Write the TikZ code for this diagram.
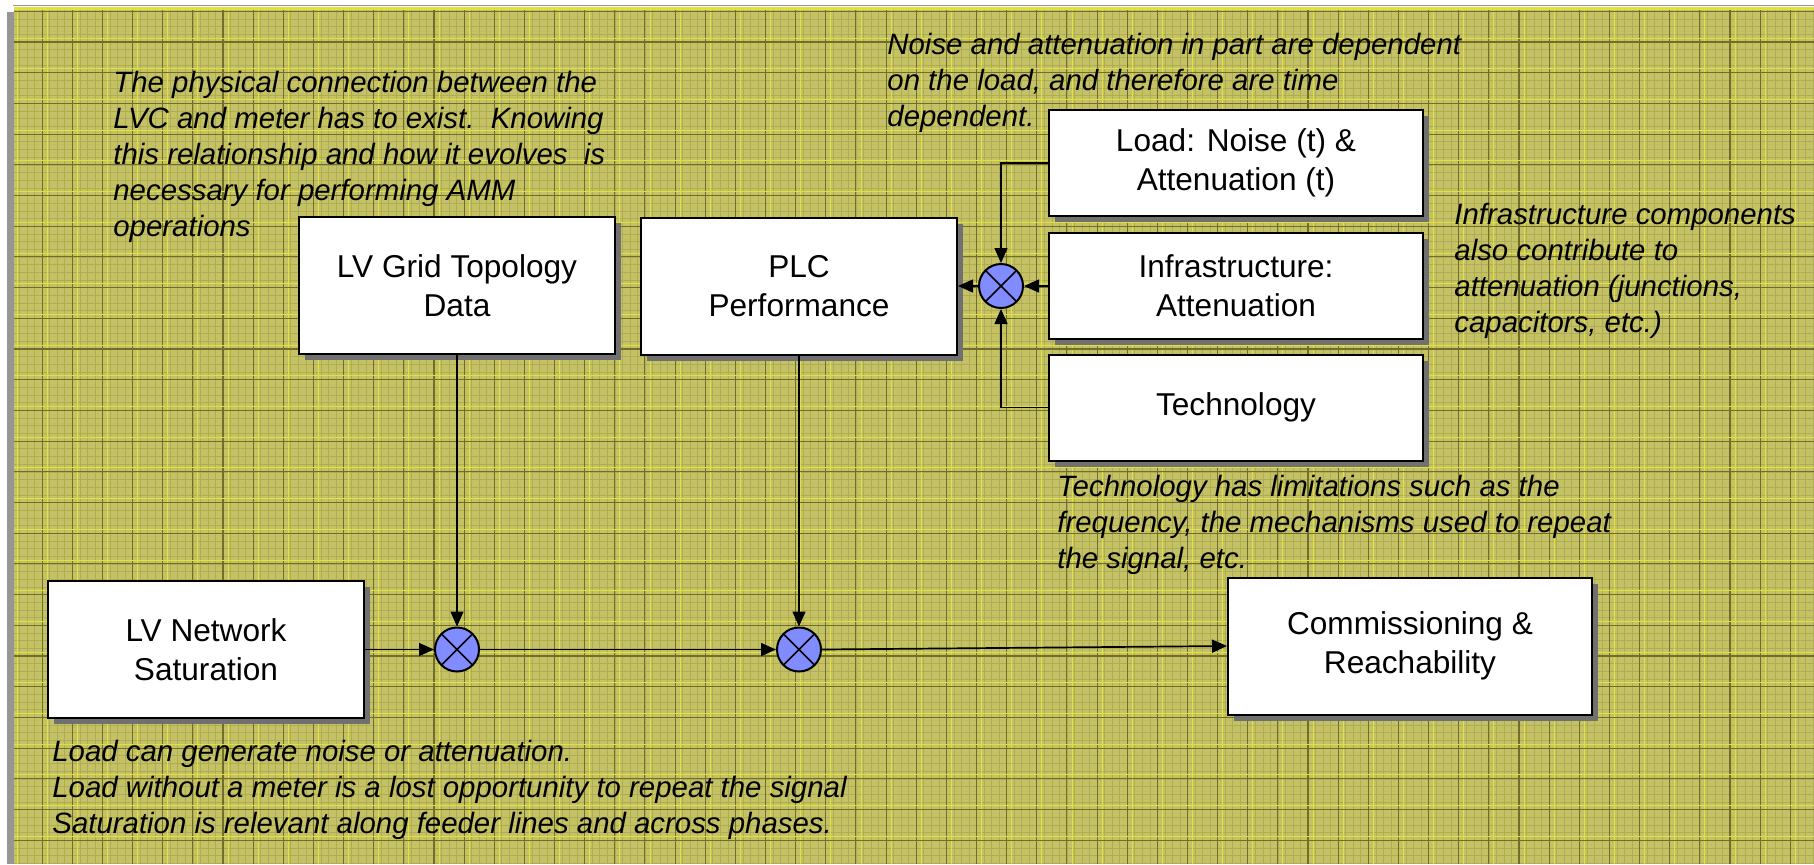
\documentclass[tikz,border=0pt]{standalone}
\usepackage{fontspec}
\setmainfont{Liberation Sans}
\usetikzlibrary{arrows.meta,shadows}

\definecolor{paper}{RGB}{196,194,100}
\definecolor{gridminor}{RGB}{174,172,84}
\definecolor{griddark}{RGB}{112,110,40}
\definecolor{gridbright}{RGB}{226,224,64}
\definecolor{framegray}{RGB}{150,150,150}
\definecolor{shadowgray}{RGB}{112,112,112}
\definecolor{sumblue}{RGB}{128,140,255}

\tikzset{
  blk/.style={draw=black, line width=1pt, fill=white,
    minimum width=158pt, minimum height=68.5pt, inner sep=0pt, align=center,
    font=\fontsize{15.8}{19.5}\selectfont,
    drop shadow={opacity=1, fill=shadowgray, shadow xshift=3pt, shadow yshift=-3pt}},
  wideblk/.style={blk, minimum width=187pt, minimum height=53pt},
  sumj/.style={circle, draw=black, line width=1pt, fill=sumblue,
    minimum size=22pt, inner sep=0pt,
    path picture={
      \draw[line width=0.8pt] (path picture bounding box.north west) -- (path picture bounding box.south east);
      \draw[line width=0.8pt] (path picture bounding box.north east) -- (path picture bounding box.south west);}},
  note/.style={font=\fontsize{14.7}{18}\selectfont\itshape, inner sep=0pt, anchor=base west},
  conn/.style={line width=0.7pt, -{Triangle[length=7.5pt,width=6.5pt]}},
}

\begin{document}
\begin{tikzpicture}[x=0.5pt, y=-0.5pt]
\useasboundingbox (0,0) rectangle (1814,864);

% sheet with its frame and squared paper
\fill[white] (0,0) rectangle (1814,864);
\fill[framegray] (7,12) rectangle (14,864);
\draw[framegray, line width=0.6pt] (13,5.5) -- (1814,5.5);
\begin{scope}
  \clip (14,7) rectangle (1814,864);
  \fill[paper] (14,7) rectangle (1814,864);
  \foreach \k in {0,...,240} {
    \pgfmathsetmacro\gx{12+7.535*\k}
    \draw[gridminor, line width=0.3pt] (\gx,7) -- (\gx,864);
  }
  \foreach \k in {0,...,112} {
    \pgfmathsetmacro\gy{11.3+7.675*\k}
    \draw[gridminor, line width=0.3pt] (14,\gy) -- (1814,\gy);
  }
  \foreach \k in {0,...,60} {
    \pgfmathsetmacro\gx{12+30.14*\k}
    \draw[griddark, line width=0.55pt] (\gx,7) -- (\gx,864);
    \draw[gridbright, line width=0.4pt] (\gx+5,7) -- (\gx+5,864);
  }
  \foreach \k in {0,...,28} {
    \pgfmathsetmacro\gy{11.3+30.7*\k}
    \draw[griddark, line width=0.55pt] (14,\gy) -- (1814,\gy);
    \draw[gridbright, line width=0.4pt] (14,\gy-4) -- (1814,\gy-4);
  }
  \draw[gridbright, line width=1pt] (14,8.5) -- (1814,8.5);
\end{scope}

% blocks
\node[blk] (topo) at (457,285.5) {LV Grid Topology\\Data};
\node[blk] (plc) at (799,286) {PLC\\Performance};
\node[wideblk] (load) at (1236,163) {Load: Noise (t) \&\\Attenuation (t)};
\node[wideblk] (infra) at (1236,286) {Infrastructure:\\Attenuation};
\node[wideblk] (tech) at (1236,407.5) {Technology};
\node[blk] (lvnet) at (206,649.5) {LV Network\\Saturation};
\node[blk, minimum width=182pt] (comm) at (1410,646) {Commissioning \&\\Reachability};

% summing junctions
\node[sumj] (j0) at (1001,286) {};
\node[sumj] (j1) at (topo |- lvnet) {};
\node[sumj] (j2) at (plc |- lvnet) {};

% signal paths
\draw[conn] (load.west) -| (j0.north);
\draw[conn] (tech.west) -| (j0.south);
\draw[conn] (infra.west) -- (j0.east);
\draw[conn] (j0.west) -- (plc.east);
\draw[conn] (topo.south) -- (j1.north);
\draw[conn] (plc.south) -- (j2.north);
\draw[conn] (lvnet.east) -- (j1.west);
\draw[conn] (j1.east) -- (j2.west);
\draw[conn, line width=0.85pt] (j2.east) -- (comm.west);

% annotations
\node[note] (n1) at (113,92) {\begin{tabular}[t]{@{}l@{}}
The physical connection between the\\
LVC and meter has to exist.\ \ Knowing\\
this relationship and how it evolves\ \ is\\
necessary for performing AMM\\
operations\end{tabular}};
\node[note] (n2) at (887,54) {\begin{tabular}[t]{@{}l@{}}
Noise and attenuation in part are dependent\\
on the load, and therefore are time\\
dependent.\end{tabular}};
\node[note] (n3) at (1454,224) {\begin{tabular}[t]{@{}l@{}}
Infrastructure components\\
also contribute to\\
attenuation (junctions,\\
capacitors, etc.)\end{tabular}};
\node[note] (n4) at (1057,496) {\begin{tabular}[t]{@{}l@{}}
Technology has limitations such as the\\
frequency, the mechanisms used to repeat\\
the signal, etc.\end{tabular}};
\node[note] (n5) at (52,761) {\begin{tabular}[t]{@{}l@{}}
Load can generate noise or attenuation.\\
Load without a meter is a lost opportunity to repeat the signal\\
Saturation is relevant along feeder lines and across phases.\end{tabular}};
\end{tikzpicture}
\end{document}
